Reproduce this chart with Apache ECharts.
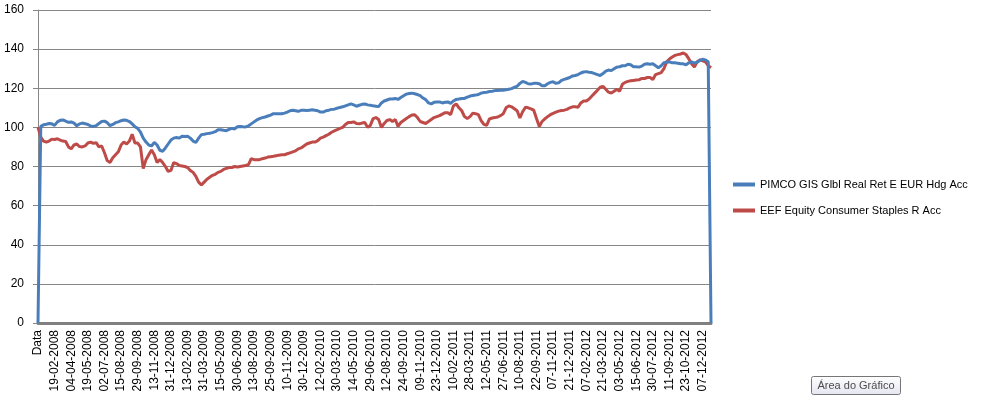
<!DOCTYPE html>
<html>
<head>
<meta charset="utf-8">
<script src="https://cdn.jsdelivr.net/npm/echarts@6/dist/echarts.min.js"></script>
<style>
html,body{margin:0;padding:0;background:#fff;}
#chart{width:981px;height:397px;}
</style>
</head>
<body>
<div id="chart"></div>
<script>
// ---- DATA ----
const tickLabels = ['Data','19-02-2008','04-04-2008','19-05-2008','02-07-2008','15-08-2008','29-09-2008','13-11-2008','31-12-2008','13-02-2009','31-03-2009','15-05-2009','30-06-2009','13-08-2009','25-09-2009','10-11-2009','30-12-2009','12-02-2010','30-03-2010','14-05-2010','29-06-2010','12-08-2010','24-09-2010','09-11-2010','23-12-2010','10-02-2011','28-03-2011','12-05-2011','27-06-2011','10-08-2011','22-09-2011','07-11-2011','21-12-2011','07-02-2012','21-03-2012','03-05-2012','15-06-2012','30-07-2012','11-09-2012','23-10-2012','07-12-2012'];
const pointsPerLabel = 6;   // sampled points between two tick labels
const trailingPoints = 3;   // points after the last tick label

const seriesNames = ['PIMCO GIS Glbl Real Ret E EUR Hdg Acc','EEF Equity Consumer Staples R Acc'];

const pimco = [
0,100.5,101.3,101.6,102.0,101.8,101.0,102.8,103.6,103.8,
103.2,102.6,102.8,102.2,100.8,101.8,102.2,101.9,101.5,100.7,
100.5,100.9,102.0,103.0,103.2,102.4,100.9,101.5,102.4,102.8,
103.4,103.8,103.6,103.0,101.8,100.3,99.5,97.6,94.5,92.5,
91.0,90.5,92.3,91.0,88.3,87.8,89.5,91.5,93.5,94.5,
94.8,94.5,95.5,95.3,95.5,94.5,93.0,92.3,94.5,96.3,
96.5,96.8,97.0,97.3,97.8,98.8,98.8,98.5,98.3,99.0,
99.5,99.2,100.3,100.5,100.3,100.2,100.8,101.8,102.8,103.8,
104.5,105.0,105.3,105.8,106.3,107.0,107.0,107.0,107.0,107.3,
107.8,108.5,108.8,108.5,108.2,108.7,108.8,108.6,108.8,109.0,
108.8,108.5,107.8,107.8,108.5,108.8,109.2,109.3,109.8,110.2,
110.5,111.0,111.5,112.0,111.5,110.8,111.3,111.8,112.0,111.5,
111.3,111.0,110.8,110.6,112.5,113.5,114.0,114.5,114.5,114.8,
114.3,115.3,116.2,117.0,117.3,117.5,117.2,116.8,116.2,115.0,
114.2,112.5,112.0,112.8,113.0,113.0,112.5,112.8,113.0,112.3,
113.5,114.3,114.5,114.8,114.8,115.5,116.0,116.3,116.5,116.8,
117.5,117.8,118.0,118.3,118.5,118.8,118.8,119.0,119.0,119.2,
119.5,119.8,120.5,121.0,122.5,123.5,123.0,122.3,122.2,122.5,
122.5,122.3,121.3,121.3,122.3,123.0,123.3,122.5,122.8,124.0,
124.5,125.0,125.5,126.3,126.5,127.0,127.8,128.3,128.5,128.2,
128.0,127.5,127.0,126.5,127.5,128.7,129.3,129.0,130.0,130.8,
131.0,131.5,131.5,132.3,132.0,131.0,131.0,130.8,131.3,132.3,
132.5,132.3,132.5,131.5,130.5,131.5,133.0,133.3,133.5,133.0,
133.0,132.8,132.5,132.5,132.0,133.0,133.5,132.8,133.3,134.3,
134.8,134.5,133.5,0
];

const eef = [
100,95.0,93.0,92.5,93.0,94.0,93.8,94.2,93.5,93.0,
92.8,90.0,89.0,91.0,91.5,90.2,90.0,90.5,92.0,92.5,
91.8,92.2,90.0,90.5,87.0,83.0,82.0,84.5,86.0,87.5,
91.0,92.5,91.5,93.0,96.5,92.0,92.0,90.0,79.0,83.5,
86.0,88.5,86.0,82.0,83.5,82.0,80.0,77.5,78.0,82.0,
81.5,80.5,80.3,80.0,79.5,78.0,77.0,75.0,72.0,70.5,
72.0,73.5,74.5,75.5,76.0,77.0,77.5,78.5,79.0,79.5,
79.5,80.0,79.7,80.0,80.3,80.5,81.0,84.0,83.5,83.5,
83.5,84.0,84.3,84.8,85.0,85.2,85.5,85.8,86.0,86.0,
86.5,87.0,87.5,88.0,89.0,89.5,90.5,91.5,92.0,92.5,
92.5,93.2,94.5,95.0,95.8,96.5,97.5,98.2,98.8,99.5,
100.0,101.5,102.5,102.5,102.8,102.0,101.8,102.2,102.5,100.0,
101.0,104.5,105.0,104.0,100.0,102.0,103.5,104.0,103.0,104.0,
100.5,102.5,103.5,104.5,105.5,106.3,106.5,105.0,103.0,102.5,
102.0,103.0,104.0,105.0,105.5,106.0,106.8,107.5,107.5,106.5,
111.0,112.0,110.0,108.5,105.5,104.5,105.5,107.3,107.0,106.5,
103.5,101.5,101.0,104.3,104.8,105.0,105.3,106.0,107.0,110.0,
111.0,110.5,109.5,108.5,104.8,108.0,110.3,110.0,109.5,108.8,
104.5,100.5,103.0,104.3,105.5,106.5,107.2,107.8,108.3,108.6,
108.8,109.2,110.0,110.5,110.5,110.3,112.5,113.5,113.5,114.5,
116.0,117.5,119.0,120.5,121.0,119.5,118.0,117.5,118.5,119.5,
118.5,122.0,123.0,123.5,123.8,124.0,124.2,124.3,125.0,125.0,
125.5,125.5,124.5,127.0,127.5,128.0,130.0,133.5,135.0,136.0,
136.8,137.2,137.5,138.0,137.2,135.0,132.5,130.8,133.5,134.5,
134.0,133.5,131.5,130.5
];

// ---- build category table from tick labels ----
const categories = [];
tickLabels.forEach((lab, k) => {
  categories.push(lab);
  const n = (k < tickLabels.length - 1) ? pointsPerLabel - 1 : trailingPoints;
  for (let j = 1; j <= n; j++) categories.push(lab + '#' + j);
});

const FONT = 'Liberation Sans';
const chart = echarts.init(document.getElementById('chart'), null, {renderer: 'canvas'});
chart.setOption({
  animation: false,
  backgroundColor: '#ffffff',
  textStyle: {fontFamily: FONT},
  grid: {left: 38, top: 10, right: 270, bottom: 74, containLabel: false},
  legend: {
    orient: 'vertical',
    left: 733,
    top: 179,
    padding: 0,
    itemGap: 15,
    itemWidth: 22,
    itemHeight: 4,
    icon: 'rect',
    textStyle: {fontFamily: FONT, fontSize: 11, color: '#000'},
    data: seriesNames
  },
  xAxis: {
    type: 'category',
    boundaryGap: false,
    data: categories,
    axisLine: {show: true, lineStyle: {color: '#808080', width: 3}},
    axisTick: {show: false},
    splitLine: {show: false},
    axisLabel: {
      interval: (idx) => idx % pointsPerLabel === 0 && idx / pointsPerLabel < tickLabels.length,
      rotate: 90,
      margin: 7,
      fontFamily: FONT,
      fontSize: 12,
      color: '#000'
    }
  },
  yAxis: {
    type: 'value',
    min: 0,
    max: 160,
    interval: 20,
    axisLine: {show: true, lineStyle: {color: '#868686', width: 1}},
    axisTick: {show: true, length: 5, lineStyle: {color: '#868686'}},
    splitLine: {show: true, lineStyle: {color: '#868686', width: 1}},
    axisLabel: {margin: 14, fontFamily: FONT, fontSize: 12, color: '#000'}
  },
  series: [
    {
      name: seriesNames[0],
      type: 'line',
      data: pimco,
      showSymbol: false,
      symbol: 'none',
      z: 3,
      color: '#4a7ebb',
      lineStyle: {color: '#4a7ebb', width: 3}
    },
    {
      name: seriesNames[1],
      type: 'line',
      data: eef,
      showSymbol: false,
      symbol: 'none',
      z: 2,
      color: '#be4b48',
      lineStyle: {color: '#be4b48', width: 3}
    }
  ],
  graphic: [
    {
      type: 'group',
      left: 811,
      top: 376,
      children: [
        {
          type: 'rect',
          shape: {x: 0, y: 0, width: 89, height: 18, r: 2},
          style: {
            fill: new echarts.graphic.LinearGradient(0, 0, 0, 1, [
              {offset: 0, color: '#ffffff'},
              {offset: 1, color: '#e4e5f0'}
            ]),
            stroke: '#767676',
            lineWidth: 1
          }
        },
        {
          type: 'text',
          x: 44.5,
          y: 9,
          style: {
            text: 'Área do Gráfico',
            fontFamily: FONT,
            fontSize: 11,
            fill: '#4c4c4c',
            align: 'center',
            verticalAlign: 'middle'
          }
        }
      ]
    }
  ]
});
</script>
</body>
</html>
